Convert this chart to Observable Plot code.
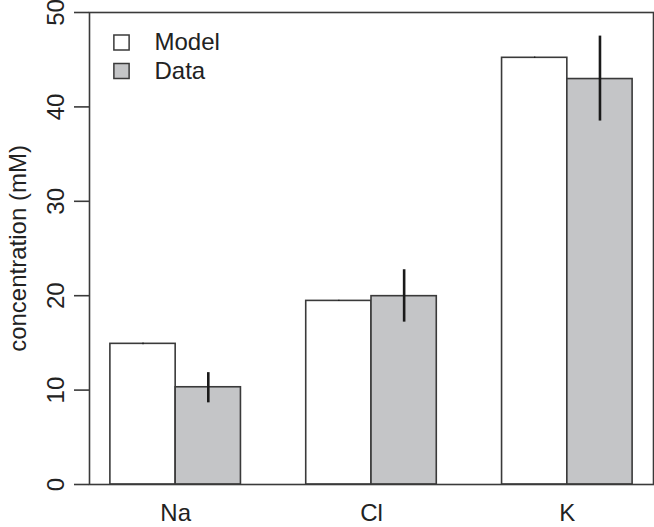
<!DOCTYPE html>
<html>
<head>
<meta charset="utf-8">
<script src="https://cdn.jsdelivr.net/npm/d3@7"></script>
<script src="https://cdn.jsdelivr.net/npm/@observablehq/plot@0.6"></script>
<style>
  html, body { margin: 0; padding: 0; background: #fff; }
  #chart svg { display: block; }
</style>
</head>
<body>
<div id="chart"></div>
<script>
// ---- data ----
const ions = ["Na", "Cl", "K"];
const series = ["Model", "Data"];
const modelValues = [14.9, 19.45, 45.2];
const modelErrLow = [14.8, 19.38, 45.12];
const modelErrHigh = [15.0, 19.52, 45.28];
const dataValues = [10.3, 19.95, 42.95];
const dataErrLow = [8.65, 17.2, 38.5];
const dataErrHigh = [11.85, 22.75, 47.5];
const yTicks = [0, 10, 20, 30, 40, 50];
const fills = {Model: "#ffffff", Data: "#c4c5c7"};

// R barplot-style layout: each group preceded by one bar width of space
const bars = [];
ions.forEach((ion, g) => {
  series.forEach((s, k) => {
    const left = 1 + 3 * g + k;
    bars.push({
      ion, series: s,
      x1: left, x2: left + 1, xc: left + 0.5,
      value: s === "Model" ? modelValues[g] : dataValues[g],
      lo: s === "Model" ? modelErrLow[g] : dataErrLow[g],
      hi: s === "Model" ? modelErrHigh[g] : dataErrHigh[g]
    });
  });
});
const groupCenters = ions.map((_, g) => 3 * g + 2);
const legendRows = series.map((s, i) => ({series: s, i}));

const font = "'Liberation Sans', Arial, Helvetica, sans-serif";
const ink = "#222";
const edge = "#3a3a3a";

const legendRow = (i, dy) => [
  Plot.dot(legendRows, {
    filter: d => d.i === i,
    frameAnchor: "top-left", dx: 32, dy,
    symbol: "square", r: 8.6,
    fill: d => fills[d.series], stroke: edge, strokeWidth: 1.5
  }),
  Plot.text(legendRows, {
    filter: d => d.i === i,
    frameAnchor: "top-left", dx: 65, dy,
    text: "series", textAnchor: "start", lineAnchor: "middle",
    fontSize: 24, fill: ink
  })
];

const chart = Plot.plot({
  width: 654,
  height: 527,
  marginTop: 12,
  marginBottom: 43,
  marginLeft: 89,
  marginRight: 1,
  style: {fontFamily: font, fontSize: "24px", color: ink, background: "#fff"},
  x: {type: "linear", domain: [0.68, 9.32]},
  y: {domain: [0, 50]},
  marks: [
    Plot.rectY(bars, {
      x1: "x1", x2: "x2", y1: 0, y2: "value",
      fill: d => fills[d.series], stroke: edge, strokeWidth: 1.6
    }),
    Plot.ruleX(bars, {
      x: "xc", y1: "lo", y2: "hi",
      stroke: "#1a1a1a", strokeWidth: d => d.series === "Data" ? 2.6 : 1.2
    }),
    Plot.frame({stroke: edge, strokeWidth: 1.6}),
    Plot.axisY({
      ticks: yTicks, tickSize: 15, tickFormat: () => "", label: null,
      stroke: edge, strokeWidth: 1.6
    }),
    Plot.text(yTicks, {
      y: d => d, text: d => String(d),
      frameAnchor: "left", dx: -26, rotate: -90,
      lineAnchor: "bottom", textAnchor: "middle",
      fontSize: 24, fill: ink
    }),
    Plot.text(["concentration (mM)"], {
      frameAnchor: "left", dx: -64, rotate: -90,
      lineAnchor: "bottom", textAnchor: "middle",
      fontSize: 24, fill: ink
    }),
    Plot.axisX({
      ticks: groupCenters,
      tickFormat: d => ions[(d - 2) / 3],
      tickSize: 0, tickPadding: 19, label: null,
      fontSize: 24, fill: ink
    }),
    ...legendRow(0, 30),
    ...legendRow(1, 58.5)
  ]
});
document.getElementById("chart").appendChild(chart);
</script>
</body>
</html>
